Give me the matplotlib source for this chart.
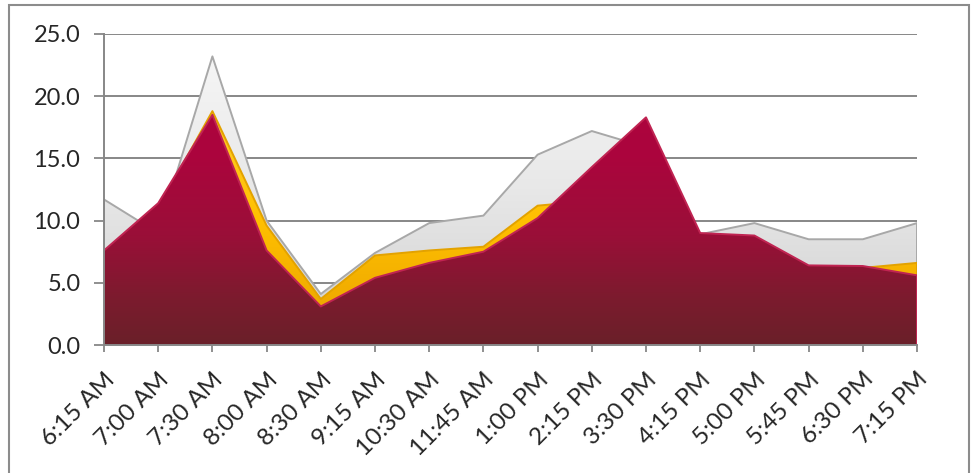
import matplotlib
matplotlib.use("Agg")
import matplotlib.pyplot as plt
import numpy as np
from matplotlib.colors import LinearSegmentedColormap
from matplotlib.patches import Rectangle

times = ["6:15 AM", "7:00 AM", "7:30 AM", "8:00 AM", "8:30 AM", "9:15 AM",
         "10:30 AM", "11:45 AM", "1:00 PM", "2:15 PM", "3:30 PM", "4:15 PM",
         "5:00 PM", "5:45 PM", "6:30 PM", "7:15 PM"]
gray_vals = [11.7, 9.0, 23.2, 10.0, 4.1, 7.4, 9.8, 10.4, 15.3, 17.2, 15.9, 8.9,
             9.8, 8.5, 8.5, 9.8]
gold_vals = [7.0, 11.0, 18.8, 9.6, 3.7, 7.2, 7.6, 7.9, 11.2, 11.6, 15.0, 8.5,
             8.2, 6.0, 6.2, 6.6]
red_vals = [7.6, 11.4, 18.5, 7.6, 3.1, 5.4, 6.6, 7.5, 10.2, 14.3, 18.3, 9.0,
            8.8, 6.4, 6.35, 5.6]

FONT = "Lato"
GRID = "#878787"


def gradient_area(ax, x, y, colors, edge, z):
    poly = ax.fill_between(x, 0, y, facecolor="none", edgecolor=edge,
                           linewidth=1.4, zorder=z + 0.1)
    cmap = LinearSegmentedColormap.from_list("g", colors)
    grad = np.linspace(0, 1, 256).reshape(-1, 1)
    im = ax.imshow(grad, extent=[x[0], x[-1], 0, 25], origin="lower",
                   aspect="auto", cmap=cmap, zorder=z, interpolation="bilinear")
    im.set_clip_path(poly.get_paths()[0], transform=ax.transData)


fig = plt.figure(figsize=(9.74, 4.73), dpi=100)
ax = fig.add_axes([104 / 974, 128 / 473, 813 / 974, 311 / 473])

x = np.arange(len(times))
gradient_area(ax, x, gray_vals, [(0, "#cfcfcf"), (0.5, "#e8e8e8"), (1, "#f8f8f8")],
              "#a8a8a8", 3)
gradient_area(ax, x, gold_vals, [(0, "#e8a000"), (0.4, "#ffc000"), (1, "#ffd84a")],
              "#e3a200", 4)
gradient_area(ax, x, red_vals,
              [(0, "#6a2029"), (0.15, "#7c1b2e"), (0.35, "#9a0f38"), (0.6, "#ab053d"),
               (1, "#b0023f")],
              "#c02452", 5)

ax.set_xlim(0, len(times) - 1)
ax.set_ylim(0, 25)
ax.set_yticks(np.arange(0, 25.1, 5))
ax.set_yticklabels([f"{v:.1f}" for v in np.arange(0, 25.1, 5)])
ax.set_xticks(x)
ax.set_xticklabels(times, rotation=45, ha="right", va="top", rotation_mode="anchor")
ax.grid(axis="y", color=GRID, linewidth=1.4, zorder=1)
ax.set_axisbelow(True)
for side in ("top", "right"):
    ax.spines[side].set_visible(False)
for side in ("left", "bottom"):
    ax.spines[side].set_color(GRID)
    ax.spines[side].set_linewidth(1.4)
    ax.spines[side].set_zorder(6)
ax.tick_params(axis="y", length=7, width=1.3, color=GRID, pad=10,
               labelsize=17, labelcolor="#262626")
ax.tick_params(axis="x", length=5, width=1.3, color=GRID, pad=12,
               labelsize=17.5, labelcolor="#262626")
for lbl in ax.get_xticklabels() + ax.get_yticklabels():
    lbl.set_fontfamily(FONT)

fig.add_artist(Rectangle((9 / 974, -0.01), 960 / 974, 1 - 5 / 473 + 0.01,
                         transform=fig.transFigure, fill=False,
                         edgecolor="#8c8c8c", linewidth=1.5))

fig.savefig("out.png", dpi=100)
